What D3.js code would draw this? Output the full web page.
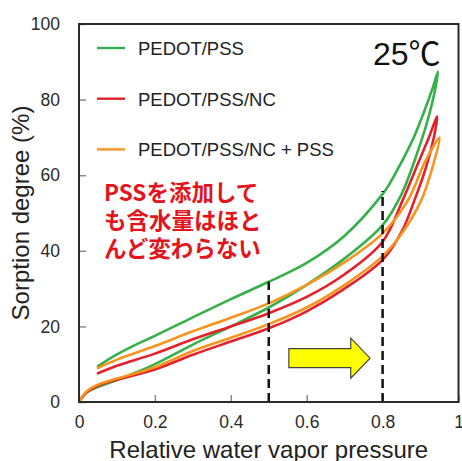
<!DOCTYPE html>
<html>
<head>
<meta charset="utf-8">
<script src="https://cdn.jsdelivr.net/npm/d3@7"></script>
<style>
  html, body { margin: 0; padding: 0; background: #fff; }
  svg { display: block; }
</style>
</head>
<body>
<div id="chart"></div>
<script>
// ---------- data ----------
const xTicks = [0, 0.2, 0.4, 0.6, 0.8, 1];
const yTicks = [0, 20, 40, 60, 80, 100];
const xTickLabels = ["0", "0.2", "0.4", "0.6", "0.8", "1"];
const yTickLabels = ["0", "20", "40", "60", "80", "100"];
const seriesNames = ["PEDOT/PSS", "PEDOT/PSS/NC", "PEDOT/PSS/NC + PSS"];
const seriesColors = ["#35b04a", "#e6202a", "#f7941d"];

// adsorption (rising) and desorption (falling) branches
const greenAdsX = [0, 0.02, 0.05, 0.1, 0.15, 0.2, 0.3, 0.4, 0.5, 0.6, 0.7, 0.8, 0.85, 0.9, 0.92, 0.935, 0.946];
const greenAdsY = [0, 2.5, 4.0, 5.8, 7.8, 10, 15.2, 20, 25, 31, 38, 46.8, 55, 68.5, 75, 81, 87.4];
const greenDesX = [0.946, 0.93, 0.91, 0.88, 0.85, 0.82, 0.8, 0.7, 0.6, 0.5, 0.4, 0.3, 0.2, 0.15, 0.1, 0.05];
const greenDesY = [87.4, 82.5, 77, 69.5, 63.5, 58, 55, 44, 36.8, 31.8, 27.2, 22.4, 17.5, 15.2, 12.6, 9.5];

const redAdsX = [0, 0.02, 0.05, 0.1, 0.2, 0.3, 0.4, 0.5, 0.6, 0.7, 0.8, 0.85, 0.884, 0.915, 0.935, 0.944];
const redAdsY = [0, 2.6, 4.3, 5.9, 8.6, 12.5, 16, 19.5, 24, 30, 37.6, 45, 53.4, 62.3, 70, 75.5];
const redDesX = [0.944, 0.92, 0.89, 0.853, 0.8, 0.7, 0.6, 0.5, 0.4, 0.3, 0.2, 0.1, 0.05];
const redDesY = [75.5, 69.5, 62.3, 53.4, 42.4, 33.8, 27.8, 23.5, 20, 16.6, 12.8, 9.6, 7.6];

const orangeAdsX = [0, 0.02, 0.05, 0.1, 0.2, 0.3, 0.4, 0.5, 0.6, 0.7, 0.8, 0.85, 0.902, 0.932, 0.95];
const orangeAdsY = [0, 2.8, 4.6, 6.2, 9.2, 13.5, 17, 20.6, 25, 31, 38.6, 44.5, 53.4, 62.3, 70];
const orangeDesX = [0.95, 0.93, 0.906, 0.867, 0.8, 0.7, 0.6, 0.5, 0.4, 0.3, 0.2, 0.1, 0.05];
const orangeDesY = [70, 67, 62.3, 53.4, 44.6, 37, 31, 26.1, 22.3, 18.7, 14.8, 11.2, 9.0];

const dashX = [0.5, 0.8];
const dashTopY = [31.8, 55.8];

const annotationLines = ["PSSを添加して", "も含水量はほと", "んど変わらない"];
const tempLabel = "25℃";
const xTitle = "Relative water vapor pressure";
const yTitle = "Sorption degree (%)";

// arrow in data units: tail x, head base x, tip x, center y, half body, half head
const arrowSpec = { x0: 0.553, x1: 0.716, x2: 0.767, y: 11.6, hb: 2.5, hh: 5.3 };

// ---------- layout ----------
const W = 462, H = 461;
const m = { left: 79, top: 24, right: 3.5, bottom: 59 };
const iw = W - m.left - m.right, ih = H - m.top - m.bottom;

const x = d3.scaleLinear().domain([0, 1]).range([0, iw]);
const y = d3.scaleLinear().domain([0, 100]).range([ih, 0]);

const svg = d3.select("#chart").append("svg").attr("width", W).attr("height", H);
const g = svg.append("g").attr("transform", `translate(${m.left},${m.top})`);

const font = "'Liberation Sans', Arial, sans-serif";

// ticks (inward, gray)
const xAxis = d3.axisBottom(x).tickValues(xTicks).tickSize(-7).tickFormat((d, i) => xTickLabels[i]).tickPadding(14);
const yAxis = d3.axisLeft(y).tickValues(yTicks).tickSize(-7).tickFormat((d, i) => yTickLabels[i]).tickPadding(19);

const gx = g.append("g").attr("transform", `translate(0,${ih})`).call(xAxis);
const gy = g.append("g").call(yAxis);
[gx, gy].forEach(a => {
  a.select(".domain").remove();
  a.selectAll(".tick line").attr("stroke", "#8a8a8a").attr("stroke-width", 1.5);
  a.selectAll(".tick text").attr("fill", "#2a2a2a").style("font-family", font).style("font-size", "17.5px");
});
gx.selectAll(".tick text").attr("dy", "0.71em");

// series
const seriesData = [
  { ax: greenAdsX, ay: greenAdsY, dx: greenDesX, dy: greenDesY },
  { ax: redAdsX, ay: redAdsY, dx: redDesX, dy: redDesY },
  { ax: orangeAdsX, ay: orangeAdsY, dx: orangeDesX, dy: orangeDesY }
];
const line = d3.line().x(d => x(d[0])).y(d => y(d[1])).curve(d3.curveCatmullRom.alpha(0.5));

const clip = svg.append("defs").append("clipPath").attr("id", "clip")
  .append("rect").attr("x", 0).attr("y", 0).attr("width", iw).attr("height", ih);

const plot = g.append("g").attr("clip-path", "url(#clip)");
seriesData.forEach((s, i) => {
  const pts = s.ax.map((v, k) => [v, s.ay[k]])
    .concat(s.dx.slice(1).map((v, k) => [v, s.dy[k + 1]]));
  plot.append("path").attr("d", line(pts))
    .attr("fill", "none").attr("stroke", seriesColors[i])
    .attr("stroke-width", 2.6).attr("stroke-linejoin", "round").attr("stroke-linecap", "round");
});

// dashed verticals
dashX.forEach((v, i) => {
  g.append("line").attr("x1", x(v)).attr("x2", x(v)).attr("y1", y(0)).attr("y2", y(dashTopY[i]))
    .attr("stroke", "#111").attr("stroke-width", 2.5).attr("stroke-dasharray", "9,5");
});

// arrow
const a = arrowSpec;
const arrowPts = [
  [a.x0, a.y + a.hb], [a.x1, a.y + a.hb], [a.x1, a.y + a.hh], [a.x2, a.y],
  [a.x1, a.y - a.hh], [a.x1, a.y - a.hb], [a.x0, a.y - a.hb]
];
g.append("polygon").attr("points", arrowPts.map(p => `${x(p[0])},${y(p[1])}`).join(" "))
  .attr("fill", "#ffff00").attr("stroke", "#444").attr("stroke-width", 1.2);

// frame
g.append("rect").attr("x", 0).attr("y", 0).attr("width", iw).attr("height", ih)
  .attr("fill", "none").attr("stroke", "#2b2b2b").attr("stroke-width", 2);

// legend
const leg = g.append("g");
seriesNames.forEach((n, i) => {
  const ly = 24 + i * 50.7;
  leg.append("line").attr("x1", 18).attr("x2", 46).attr("y1", ly).attr("y2", ly)
    .attr("stroke", seriesColors[i]).attr("stroke-width", 2.4);
  leg.append("text").attr("x", 59).attr("y", ly + 7).text(n)
    .attr("fill", "#222").style("font-family", font).style("font-size", "18.5px");
});

// temperature label
g.append("text").attr("x", 294).attr("y", 41).text(tempLabel)
  .attr("fill", "#111").style("font-family", "'Liberation Sans', 'Noto Sans CJK JP', sans-serif").style("font-size", "32px");

// annotation
annotationLines.forEach((t, i) => {
  g.append("text").attr("x", 25).attr("y", 177 + i * 28).text(t)
    .attr("fill", "#e3141c").style("font-family", "'Noto Sans CJK JP', sans-serif")
    .style("font-weight", "700").style("font-size", "22.5px");
});

// axis titles
svg.append("text").attr("x", m.left + iw / 2).attr("y", 458).attr("text-anchor", "middle")
  .text(xTitle).attr("fill", "#222").style("font-family", font).style("font-size", "24px");
svg.append("text").attr("transform", `translate(29,${m.top + ih / 2}) rotate(-90)`)
  .attr("text-anchor", "middle").text(yTitle)
  .attr("fill", "#222").style("font-family", font).style("font-size", "24px");
</script>
</body>
</html>
